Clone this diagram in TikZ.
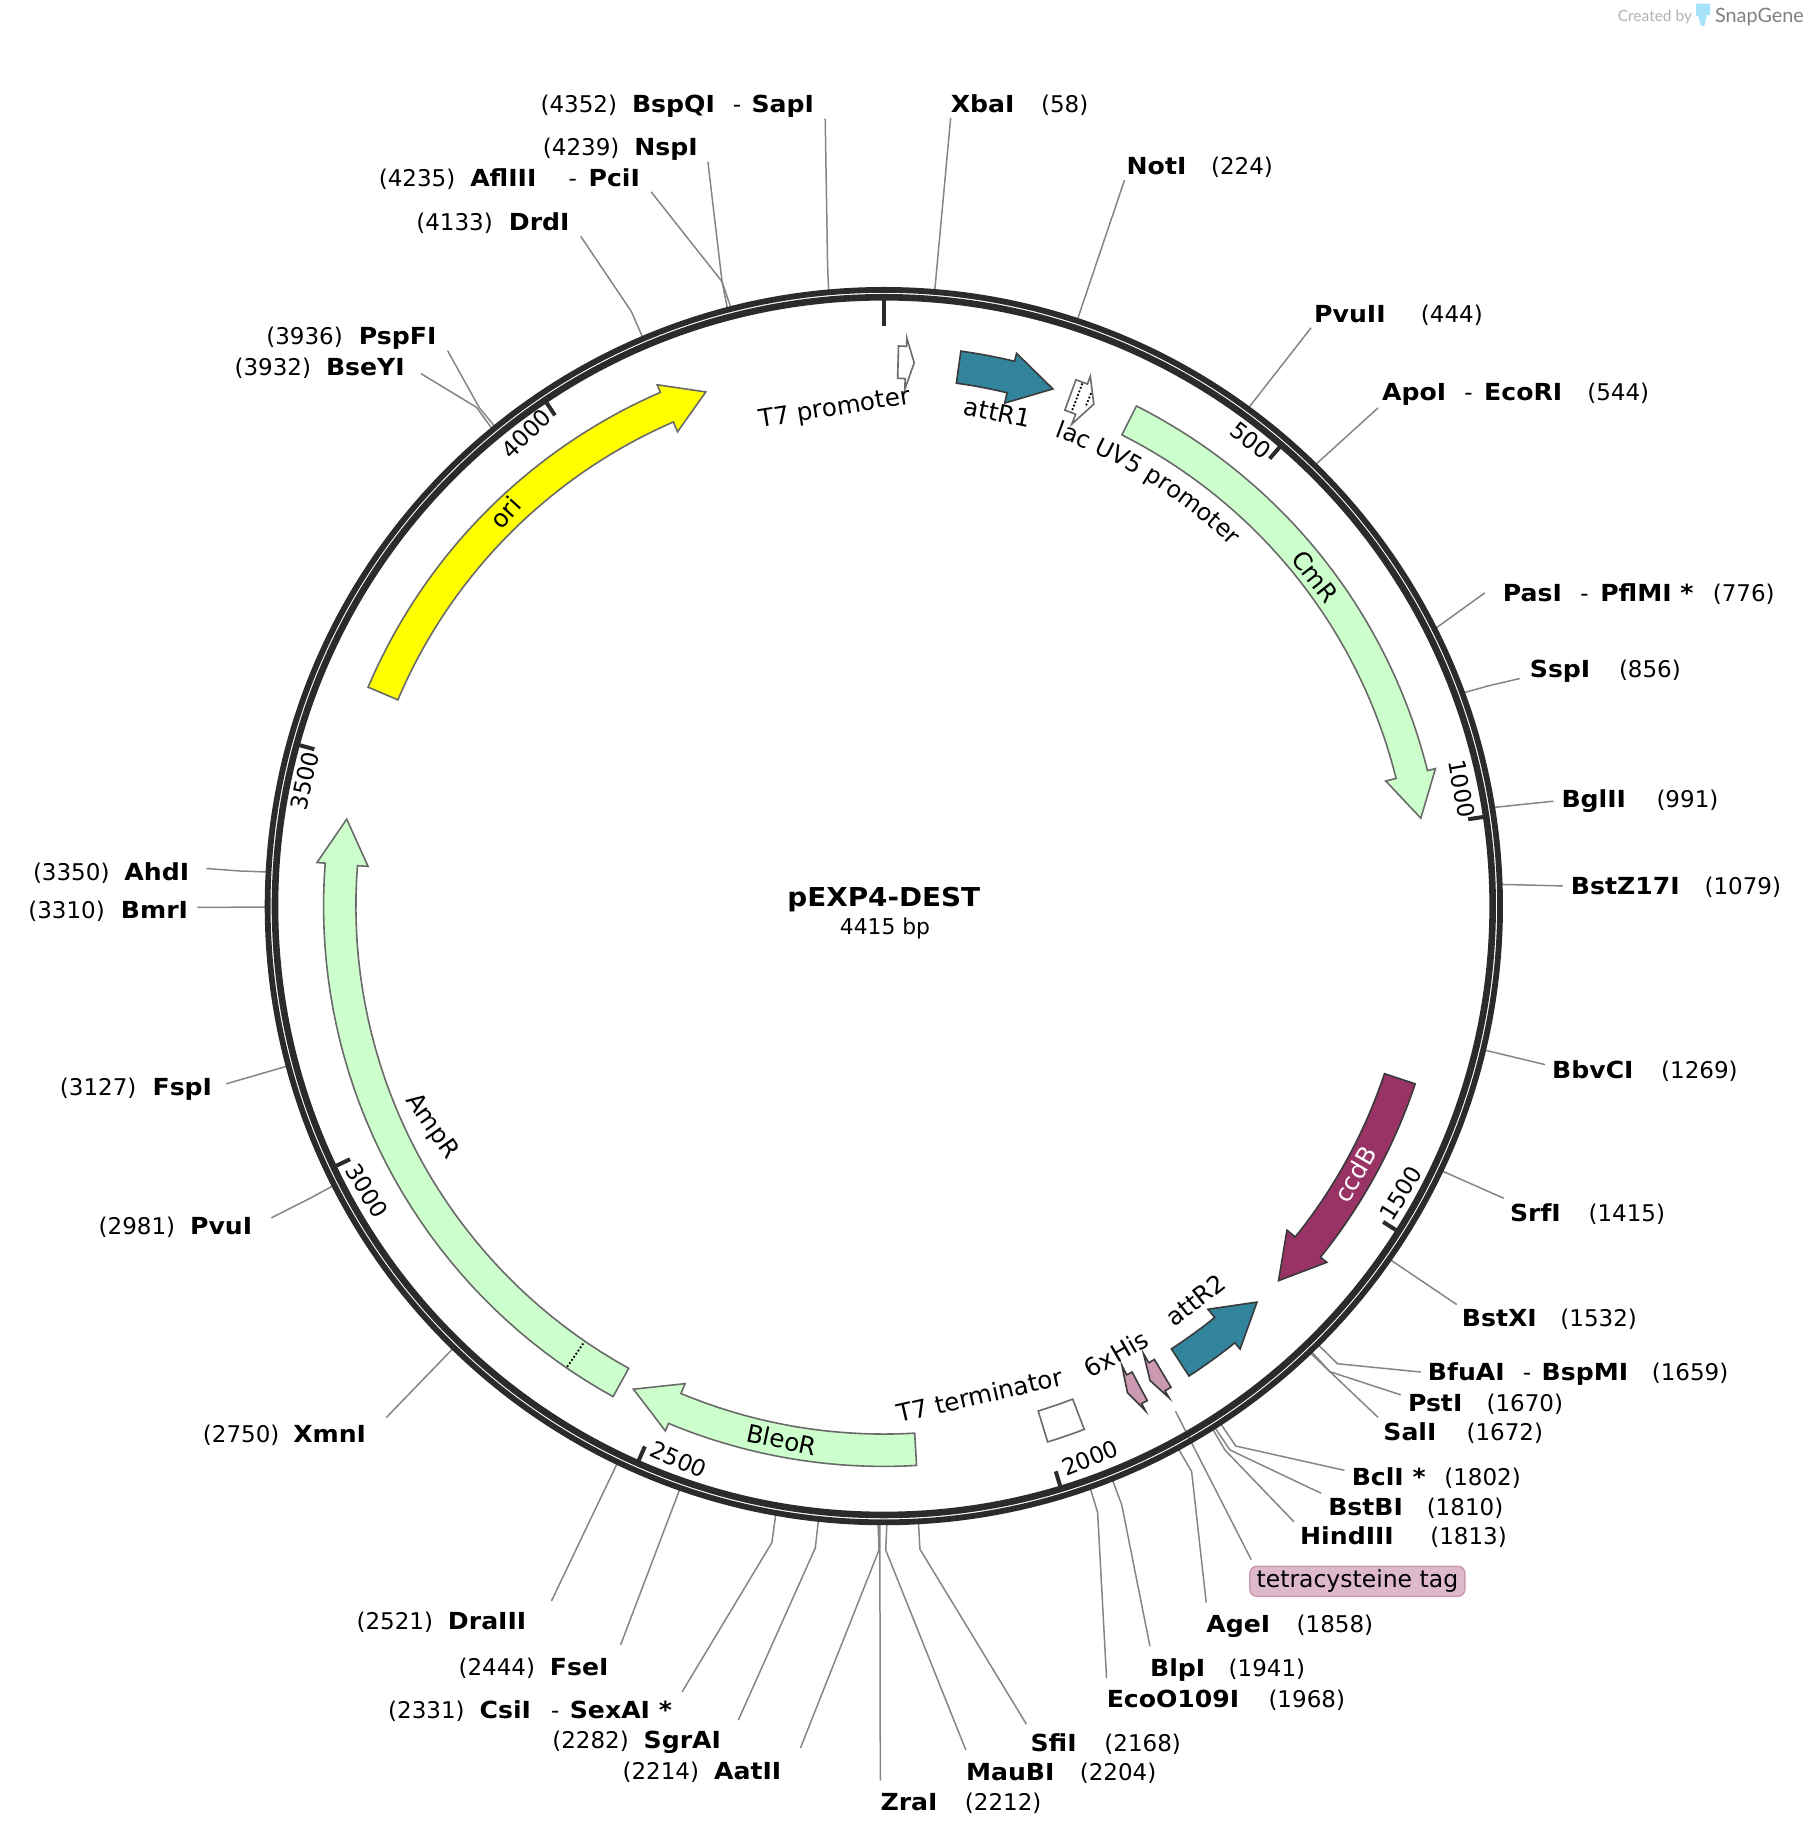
\documentclass[tikz,border=0pt]{standalone}
\usepackage{fontspec}
\setmainfont{DejaVu Sans}
\newfontfamily\sitefont[FakeStretch=1.07]{DejaVu Sans}
\newfontfamily\markfont{Lato}
\usepackage{tikz}
\usetikzlibrary{decorations.text}
\definecolor{ringcol}{HTML}{2B2B2B}
\definecolor{leadcol}{HTML}{858585}
\definecolor{edgecol}{HTML}{6A6A6A}
\definecolor{darkedge}{HTML}{3A3A3A}
\definecolor{genecol}{HTML}{CCFFCC}
\definecolor{oricol}{HTML}{FFFF00}
\definecolor{attcol}{HTML}{31849B}
\definecolor{ccdcol}{HTML}{993366}
\definecolor{tagcol}{HTML}{CC99B3}
\definecolor{tagfill}{HTML}{DDB9CB}
\newcommand{\featarrow}[4]{%
  \draw[#1] plot[domain=#2:#3,samples=40] ({\x}:478) -- (#3:485) -- (#4:464.2) -- (#3:441.3)
    -- plot[domain=#3:#2,samples=40] ({\x}:450.4) -- cycle;}

\begin{document}
\begin{tikzpicture}[%
x=1.1722pt,y=-1.1722pt,%
declare function={bp(\p)=\p*0.081540;},%
site/.style={anchor=base west,yshift=-1.1pt,inner xsep=0pt,inner ysep=5pt,font=\sitefont\bfseries\fontsize{23.5}{28}\selectfont},%
sitepos/.style={anchor=base west,yshift=-1.1pt,inner sep=0pt,font=\fontsize{23}{28}\selectfont},%
leader/.style={draw=leadcol,line width=1.5pt},%
ringline/.style={draw=ringcol,line width=6pt},%
unit/.style={draw=ringcol,line width=4pt},%
feat/.style={draw=edgecol,line width=1.6pt,line join=miter},%
featlabel/.style={inner sep=1pt,font=\fontsize{24.6}{28}\selectfont},%
unitlabel/.style={inner sep=1pt,font=\fontsize{23}{28}\selectfont},%
  ]
    \useasboundingbox (0,0) rectangle (1544.1,1568);

    \begin{scope}[shift={(754,773)},rotate=90]
      \coordinate (cutXbaI) at ({bp(58)}:527);
      \coordinate (cutNotI) at ({bp(224)}:527);
      \coordinate (cutPvuII) at ({bp(444)}:527);
      \coordinate (cutEcoRI) at ({bp(544)}:527);
      \coordinate (cutPfl) at ({bp(776)}:527);
      \coordinate (cutSspI) at ({bp(856)}:527);
      \coordinate (cutBglII) at ({bp(991)}:527);
      \coordinate (cutBstZ) at ({bp(1079)}:527);
      \coordinate (cutBbvCI) at ({bp(1269)}:527);
      \coordinate (cutSrfI) at ({bp(1415)}:527);
      \coordinate (cutBstXI) at ({bp(1532)}:527);
      \coordinate (cutBfuAI) at ({bp(1659)}:527);
      \coordinate (cutPstI) at ({bp(1670)}:527);
      \coordinate (cutSalI) at ({bp(1672)}:527);
      \coordinate (cutBclI) at ({bp(1802)}:527);
      \coordinate (cutBstBI) at ({bp(1810)}:527);
      \coordinate (cutHindIII) at ({bp(1813)}:527);
      \coordinate (cutAgeI) at ({bp(1858)}:527);
      \coordinate (cutBlpI) at ({bp(1941)}:527);
      \coordinate (cutEcoO) at ({bp(1968)}:527);
      \coordinate (cutSfiI) at ({bp(2168)}:527);
      \coordinate (cutMauBI) at ({bp(2204)}:527);
      \coordinate (cutZraI) at ({bp(2212)}:527);
      \coordinate (cutAatII) at ({bp(2214)}:527);
      \coordinate (cutSgrAI) at ({bp(2282)}:527);
      \coordinate (cutCsiI) at ({bp(2331)}:527);
      \coordinate (cutFseI) at ({bp(2444)}:527);
      \coordinate (cutDraIII) at ({bp(2521)}:527);
      \coordinate (cutXmnI) at ({bp(2750)}:527);
      \coordinate (cutPvuI) at ({bp(2981)}:527);
      \coordinate (cutFspI) at ({bp(3127)}:527);
      \coordinate (cutBmrI) at ({bp(3310)}:527);
      \coordinate (cutAhdI) at ({bp(3350)}:527);
      \coordinate (cutBseYI) at ({bp(3932)}:527);
      \coordinate (cutPspFI) at ({bp(3936)}:527);
      \coordinate (cutDrdI) at ({bp(4133)}:527);
      \coordinate (cutAfl) at ({bp(4235)}:527);
      \coordinate (cutNspI) at ({bp(4239)}:527);
      \coordinate (cutBspQI) at ({bp(4352)}:527);
      \coordinate (tagstart) at (150:497.5);
    \end{scope}

    \node[sitepos] (posBspQI) at (461,95) {(4352)};
    \node[site] (BspQI) at (539,95) {BspQI};
    \node[sitepos] (dashSapI) at (625,95) {-};
    \node[site] (SapI) at (641,95) {SapI};

    \node[site] (XbaI) at (811,95) {XbaI};
    \node[sitepos] (posXbaI) at (888,95) {(58)};

    \node[site] (NotI) at (961,148) {NotI};
    \node[sitepos] (posNotI) at (1033,148) {(224)};

    \node[site] (PvuII) at (1121,274) {PvuII};
    \node[sitepos] (posPvuII) at (1212,274) {(444)};

    \node[site] (ApoI) at (1179,341) {ApoI};
    \node[sitepos] (dashEcoRI) at (1249,341) {-};
    \node[site] (EcoRI) at (1266,341) {EcoRI};
    \node[sitepos] (posEcoRI) at (1354,341) {(544)};

    \node[site] (PasI) at (1282,512) {PasI};
    \node[sitepos] (dashPflMI) at (1348,512) {-};
    \node[site] (PflMI) at (1365,512) {PflMI *};
    \node[sitepos] (posPflMI) at (1461,512) {(776)};

    \node[site] (SspI) at (1305,577) {SspI};
    \node[sitepos] (posSspI) at (1381,577) {(856)};

    \node[site] (BglII) at (1332,688) {BglII};
    \node[sitepos] (posBglII) at (1413,688) {(991)};

    \node[site] (BstZ) at (1340,762) {BstZ17I};
    \node[sitepos] (posBstZ) at (1454,762) {(1079)};

    \node[site] (BbvCI) at (1324,919) {BbvCI};
    \node[sitepos] (posBbvCI) at (1417,919) {(1269)};

    \node[site] (SrfI) at (1288,1041) {SrfI};
    \node[sitepos] (posSrfI) at (1355,1041) {(1415)};

    \node[site] (BstXI) at (1247,1131) {BstXI};
    \node[sitepos] (posBstXI) at (1331,1131) {(1532)};

    \node[site] (BfuAI) at (1218,1177) {BfuAI};
    \node[sitepos] (dashBspMI) at (1299,1177) {-};
    \node[site] (BspMI) at (1315,1177) {BspMI};
    \node[sitepos] (posBspMI) at (1409,1177) {(1659)};

    \node[site] (PstI) at (1201,1203) {PstI};
    \node[sitepos] (posPstI) at (1268,1203) {(1670)};

    \node[site] (SalI) at (1180,1228) {SalI};
    \node[sitepos] (posSalI) at (1251,1228) {(1672)};

    \node[site] (BclI) at (1153,1266) {BclI *};
    \node[sitepos] (posBclI) at (1232,1266) {(1802)};

    \node[site] (BstBI) at (1133,1292) {BstBI};
    \node[sitepos] (posBstBI) at (1217,1292) {(1810)};

    \node[site] (HindIII) at (1109,1317) {HindIII};
    \node[sitepos] (posHindIII) at (1220,1317) {(1813)};

    \node[draw=tagcol,fill=tagfill,line width=1.5pt,rounded corners=7pt,minimum width=215pt,minimum height=30pt,inner sep=0pt,font=\fontsize{23.5}{28}\selectfont] (tetratag) at (1158,1349) {tetracysteine tag};

    \node[site] (AgeI) at (1029,1392) {AgeI};
    \node[sitepos] (posAgeI) at (1106,1392) {(1858)};

    \node[site] (BlpI) at (981,1429) {BlpI};
    \node[sitepos] (posBlpI) at (1048,1429) {(1941)};

    \node[site] (EcoO) at (944,1456) {EcoO109I};
    \node[sitepos] (posEcoO) at (1082,1456) {(1968)};

    \node[site] (SfiI) at (879,1493) {SfiI};
    \node[sitepos] (posSfiI) at (942,1493) {(2168)};

    \node[site] (MauBI) at (824,1518) {MauBI};
    \node[sitepos] (posMauBI) at (921,1518) {(2204)};

    \node[site] (ZraI) at (751,1544) {ZraI};
    \node[sitepos] (posZraI) at (823,1544) {(2212)};

    \node[sitepos] (posAatII) at (531,1517) {(2214)};
    \node[site] (AatII) at (609,1517) {AatII};

    \node[sitepos] (posSgrAI) at (471,1491) {(2282)};
    \node[site] (SgrAI) at (549,1491) {SgrAI};

    \node[sitepos] (posCsiI) at (331,1465) {(2331)};
    \node[site] (CsiI) at (409,1465) {CsiI};
    \node[sitepos] (dashSexAI) at (470,1465) {-};
    \node[site] (SexAI) at (486,1465) {SexAI *};

    \node[sitepos] (posFseI) at (391,1428) {(2444)};
    \node[site] (FseI) at (469,1428) {FseI};

    \node[sitepos] (posDraIII) at (304,1389) {(2521)};
    \node[site] (DraIII) at (382,1389) {DraIII};

    \node[sitepos] (posXmnI) at (173,1230) {(2750)};
    \node[site] (XmnI) at (250,1230) {XmnI};

    \node[sitepos] (posPvuI) at (84,1052) {(2981)};
    \node[site] (PvuI) at (162,1052) {PvuI};

    \node[sitepos] (posFspI) at (51,934) {(3127)};
    \node[site] (FspI) at (130,934) {FspI};

    \node[sitepos] (posBmrI) at (24,783) {(3310)};
    \node[site] (BmrI) at (103,783) {BmrI};

    \node[sitepos] (posAhdI) at (28,750) {(3350)};
    \node[site] (AhdI) at (106,750) {AhdI};

    \node[sitepos] (posBseYI) at (200,319) {(3932)};
    \node[site] (BseYI) at (278,319) {BseYI};

    \node[sitepos] (posPspFI) at (227,293) {(3936)};
    \node[site] (PspFI) at (306,293) {PspFI};

    \node[sitepos] (posDrdI) at (355,196) {(4133)};
    \node[site] (DrdI) at (434,196) {DrdI};

    \node[sitepos] (posAflIII) at (323,158) {(4235)};
    \node[site] (AflIII) at (401,158) {AflIII};
    \node[sitepos] (dashPciI) at (485,158) {-};
    \node[site] (PciI) at (502,158) {PciI};

    \node[sitepos] (posNspI) at (463,132) {(4239)};
    \node[site] (NspI) at (541,132) {NspI};

    \draw[leader] ([xshift=11pt,yshift=4pt]SapI.south east) -- (706,226) -- (cutBspQI);
    \draw[leader] (XbaI.south west) -- (cutXbaI);
    \draw[leader] ([xshift=-2pt]NotI.south west) -- (cutNotI);
    \draw[leader] ([xshift=-3pt]PvuII.south west) -- (cutPvuII);
    \draw[leader] ([xshift=-4pt,yshift=3pt]ApoI.south west) -- (cutEcoRI);
    \draw[leader] ([xshift=-18pt]PasI.west) -- (cutPfl);
    \draw[leader] ([xshift=-10pt,yshift=9pt]SspI.south west) -- (1270,585) -- (cutSspI);
    \draw[leader] ([xshift=-8pt]BglII.west) -- (cutBglII);
    \draw[leader] ([xshift=-8pt]BstZ.west) -- (cutBstZ);
    \draw[leader] ([xshift=-7pt,yshift=5pt]BbvCI.west) -- (cutBbvCI);
    \draw[leader] ([xshift=-6pt]SrfI.north west) -- (cutSrfI);
    \draw[leader] ([xshift=-5pt]BstXI.north west) -- (cutBstXI);
    \draw[leader] ([xshift=-7pt]BfuAI.west) -- (1141,1163.4) -- (cutBfuAI);
    \draw[leader] ([xshift=-7pt,yshift=8pt]PstI.west) -- (1134.6,1170.2) -- (cutPstI);
    \draw[leader] ([xshift=-5pt]SalI.north west) -- (1134.6,1170.2) -- (cutSalI);
    \draw[leader] ([xshift=-7pt,yshift=6pt]BclI.west) -- (1054.2,1233.6) -- (cutBclI);
    \draw[leader] ([xshift=-7pt]BstBI.north west) -- (1049.3,1237) -- (cutBstBI);
    \draw[leader] ([xshift=-6pt]HindIII.north west) -- (1045,1237) -- (cutHindIII);
    \draw[leader] ([xshift=2pt,yshift=6pt]tetratag.north west) -- (tagstart);
    \draw[leader] ([yshift=8pt]AgeI.north west) -- (1016.6,1255.5) -- (cutAgeI);
    \draw[leader] ([yshift=7pt]BlpI.north west) -- (957,1283.9) -- (cutBlpI);
    \draw[leader] ([yshift=7pt]EcoO.north west) -- (936.4,1290.4) -- (cutEcoO);
    \draw[leader] ([xshift=-4pt,yshift=4pt]SfiI.north west) -- (784.8,1321.6) -- (cutSfiI);
    \draw[leader] ([yshift=8pt]MauBI.north west) -- (755.6,1322.3) -- (cutMauBI);
    \draw[leader] ([yshift=8pt]ZraI.north west) -- (cutZraI);
    \draw[leader] ([xshift=19pt,yshift=9pt]AatII.north east) -- (749.9,1322.3) -- (cutAatII);
    \draw[leader] ([xshift=17pt,yshift=6pt]SgrAI.north east) -- (695.5,1320.6) -- (cutSgrAI);
    \draw[leader] ([xshift=10pt,yshift=4pt]SexAI.north east) -- (658.5,1315.9) -- (cutCsiI);
    \draw[leader] ([xshift=12pt,yshift=8pt]FseI.north east) -- (cutFseI);
    \draw[leader] ([xshift=25pt,yshift=6pt]DraIII.north east) -- (cutDraIII);
    \draw[leader] ([xshift=20pt,yshift=3pt]XmnI.north east) -- (cutXmnI);
    \draw[leader] ([xshift=19pt,yshift=8pt]PvuI.east) -- (265,1022) -- (cutPvuI);
    \draw[leader] ([xshift=14pt,yshift=6pt]FspI.east) -- (cutFspI);
    \draw[leader] ([xshift=9pt,yshift=3pt]BmrI.east) -- (cutBmrI);
    \draw[leader] ([xshift=17pt,yshift=3pt]AhdI.east) -- (204,743) -- (cutAhdI);
    \draw[leader] ([xshift=16pt,yshift=-7pt]BseYI.east) -- (406.5,347.5) -- (cutBseYI);
    \draw[leader] ([xshift=11pt,yshift=4pt]PspFI.south east) -- (409,348) -- (cutPspFI);
    \draw[leader] ([xshift=11pt]DrdI.south east) -- (538.7,265.9) -- (cutDrdI);
    \draw[leader] ([xshift=11pt]PciI.south east) -- (616,240.3) -- (cutAfl);
    \draw[leader] ([xshift=10pt,yshift=4pt]NspI.south east) -- (616,240.3) -- (cutNspI);

    \begin{scope}[shift={(754,773)},rotate=90]
      \draw[ringline,line width=5.8pt] (0,0) circle (525.7);
      \draw[ringline,line width=6.6pt] (0,0) circle (519.4);

      \draw[unit] (0:517) -- (0:495);
      \draw[unit] ({bp(500)}:517) -- ({bp(500)}:504);
      \draw[unit] ({bp(1000)}:517) -- ({bp(1000)}:504);
      \draw[unit] ({bp(1500)}:517) -- ({bp(1500)}:504);
      \draw[unit] ({bp(2000)}:517) -- ({bp(2000)}:504);
      \draw[unit] ({bp(2500)}:517) -- ({bp(2500)}:504);
      \draw[unit] ({bp(3000)}:517) -- ({bp(3000)}:504);
      \draw[unit] ({bp(3500)}:517) -- ({bp(3500)}:504);
      \draw[unit] ({bp(4000)}:517) -- ({bp(4000)}:504);

      \featarrow{feat,fill=white}{1.5}{2.32}{3.2}
      \featarrow{feat,fill=attcol,draw=darkedge}{7.9}{13.5}{18.1}
      \featarrow{feat,fill=white}{20.05}{21.3}{22.7}
      \featarrow{feat,fill=genecol}{26.8}{76}{80.7}
      \featarrow{feat,fill=ccdcol,draw=darkedge}{108.5}{128.8}{133.5}
      \featarrow{feat,fill=attcol,draw=darkedge}{147}{141.2}{136.7}
      \featarrow{feat,fill=tagcol,draw=darkedge}{149.17}{149.88}{150.7}
      \featarrow{feat,fill=tagcol,draw=darkedge}{151.95}{152.6}{153.4}
      \featarrow{feat,fill=genecol}{176.65}{202.6}{207.4}
      \featarrow{feat,fill=genecol}{208.9}{274.4}{279.2}
      \featarrow{feat,fill=oricol}{293}{336.5}{340.9}

      \draw[feat,fill=white] plot[domain=159.04:163,samples=5] ({\x}:478) -- plot[domain=163:159.04,samples=5] ({\x}:450.4) -- cycle;

      \draw[dotted,line width=1.8pt] (20.8:477) -- (20.8:451);
      \draw[dotted,line width=1.8pt] (22:472) -- (22:459);
      \draw[dotted,line width=1.8pt] (214.5:477) -- (214.5:451);

      \path[decorate,decoration={text along path,text align=left,text={|\fontsize{23.8}{28}\selectfont|lac UV5 promoter}}] plot[domain=20:52,samples=40] ({\x}:426.5);
    \end{scope}

    \node[featlabel,rotate=9] (lblT7p) at (712,349) {T7 promoter};
    \node[featlabel,rotate=-12] (lblattRone) at (851,352) {attR1};
    \node[featlabel,rotate=-52] (lblCmR) at (1122,492) {CmR};
    \node[featlabel,rotate=60,text=white] (lblccdB) at (1156,1002) {ccdB};
    \node[featlabel,rotate=38] (lblattRtwo) at (1020,1109) {attR2};
    \node[featlabel,rotate=30] (lblHis) at (952,1155) {6xHis};
    \node[featlabel,rotate=13] (lblT7t) at (836,1190) {T7 terminator};
    \node[featlabel,rotate=-12] (lblBleoR) at (667,1228) {BleoR};
    \node[featlabel,rotate=-55] (lblAmpR) at (368,961) {AmpR};
    \node[featlabel,rotate=48] (lblori) at (431,437) {ori};

    \node[unitlabel,rotate=-38] (unit500) at (1067,376) {500};
    \node[unitlabel,rotate=-80] (unit1000) at (1247,673) {1000};
    \node[unitlabel,rotate=58] (unit1500) at (1195,1018) {1500};
    \node[unitlabel,rotate=22] (unit2000) at (930,1244) {2000};
    \node[unitlabel,rotate=-24] (unit2500) at (579,1245) {2500};
    \node[unitlabel,rotate=-58] (unit3000) at (313,1016) {3000};
    \node[unitlabel,rotate=78] (unit3500) at (260,666) {3500};
    \node[unitlabel,rotate=45] (unit4000) at (449,370) {4000};

    \node[inner sep=0pt,font=\sitefont\bfseries\fontsize{26}{30}\selectfont] (plasmidname) at (754,767) {pEXP4-DEST};
    \node[inner sep=0pt,font=\fontsize{21.8}{26}\selectfont] (plasmidsize) at (755,792) {4415 bp};

    \node[inner sep=0pt,anchor=base west,text=black!30,font=\markfont\fontsize{15.5}{18}\selectfont] (createdby) at (1380,18) {Created by};
    \fill[cyan!35!white] (1447,3) -- (1459,3) -- (1459,13) -- (1456,13) -- (1454,22) -- (1451,22) -- (1449,14) -- (1447,13) -- cycle;
    \node[inner sep=0pt,anchor=base west,text=black!50,font=\markfont\fontsize{19.8}{22}\selectfont] (snapgene) at (1463,19) {SnapGene};
  \end{tikzpicture}
\end{document}
